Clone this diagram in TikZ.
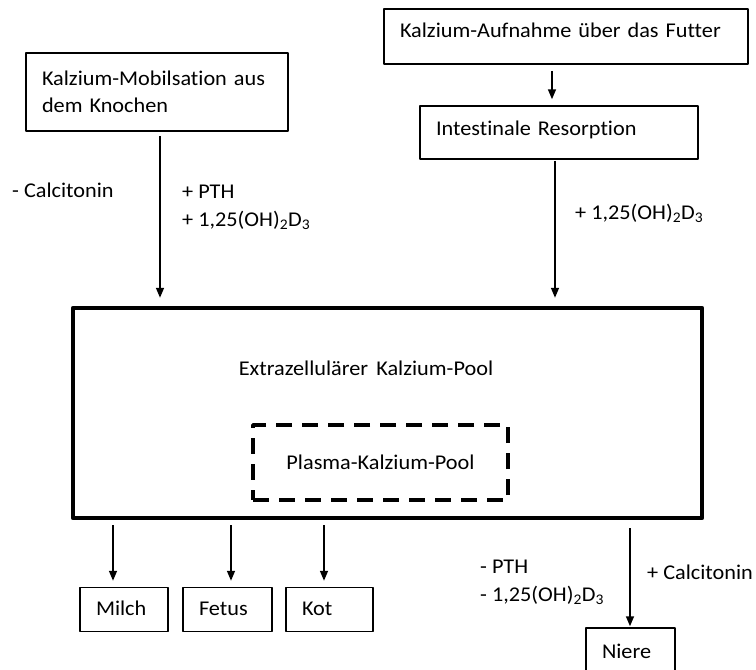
\documentclass[tikz,border=0pt]{standalone}
\usepackage{fontspec}
\setmainfont{Carlito}[Ligatures={TeX,NoCommon}, FakeStretch=1.06]
\usetikzlibrary{arrows.meta}
\begin{document}
\begin{tikzpicture}[x=1pt, y=-1pt, font=\fontsize{21}{28}\selectfont, line join=round, >={Triangle[length=10pt,width=8pt]},
	kasten/.style={draw, line width=1.5pt, align=left, inner xsep=16pt, inner ysep=0pt},
	klein/.style={kasten, minimum height=44pt, text height=14pt, text depth=2pt},
	pfeil/.style={->, line width=1.5pt},
	beschr/.style={align=left, inner sep=0pt, anchor=west}]
	\useasboundingbox (0,0) rectangle (756,670);
	% Zufluss
	\node[kasten, text width=230pt, minimum height=78pt] (knochen) at (157,92) {Kalzium-Mobilsation aus\\[-1pt]dem Knochen};
	\node[kasten, text width=332pt, minimum height=55pt, text depth=12pt] (futter) at (566,36.5) {Kalzium-Aufnahme über das Futter};
	\node[kasten, text width=246pt, minimum height=53pt, text depth=8pt] (resorption) at (559,132.5) {Intestinale Resorption};
	% Pool
	\node[draw, line width=4.5pt, minimum width=629pt, minimum height=210pt] (pool) at (387.5,413) {};
	\node (pooltext) at (366,368) {Extrazellulärer\hspace{0.15em} Kalzium-Pool};
	\node[draw, line width=3.5pt, dash pattern=on 16pt off 10pt, minimum width=255pt, minimum height=75pt] (plasma) at (380.5,462.5) {Plasma-Kalzium-Pool};
	% Abfluss
	\node[klein, text width=56pt] (milch) at (124,609.5) {Milch};
	\node[klein, text width=57pt] (fetus) at (227.5,609.5) {Fetus};
	\node[klein, text width=55pt] (kot) at (329.5,609.5) {Kot};
	\node[klein, text width=57pt, minimum height=48pt] (niere) at (630.5,652) {Niere};
	% Spalten der Pfeile
	\coordinate (k) at (160,0);
	\coordinate (f) at (552,0);
	\coordinate (r) at (555,0);
	\coordinate (n) at (630,0);
	\draw[pfeil, shorten <=4pt, shorten >=8pt] (knochen.south -| k) -- (pool.north -| k);
	\draw[pfeil, shorten <=6pt, shorten >=6pt] (futter.south -| f) -- (resorption.north -| f);
	\draw[pfeil, shorten <=1pt, shorten >=8pt] (resorption.south -| r) -- (pool.north -| r);
	\foreach \z/\x in {milch/113, fetus/231, kot/324}
	{
		\coordinate (z) at (\x,0);
		\draw[pfeil, shorten <=5pt, shorten >=6pt] (pool.south -| z) -- (\z.north -| z);
	}
	\draw[pfeil, shorten <=8pt, shorten >=1pt] (pool.south -| n) -- (niere.north -| n);
	% Regulation
	\node[beschr] (calc1) at (12,190) {- Calcitonin};
	\node[beschr] (pth1) at (182,207) {+ PTH\\+ 1,25(OH)\textsubscript{2}D\textsubscript{3}};
	\node[beschr] (vitd) at (575,213) {+ 1,25(OH)\textsubscript{2}D\textsubscript{3}};
	\node[beschr] (pth2) at (480,582) {- PTH\\- 1,25(OH)\textsubscript{2}D\textsubscript{3}};
	\node[beschr] (calc2) at (647,572) {+ Calcitonin};
\end{tikzpicture}
\end{document}
